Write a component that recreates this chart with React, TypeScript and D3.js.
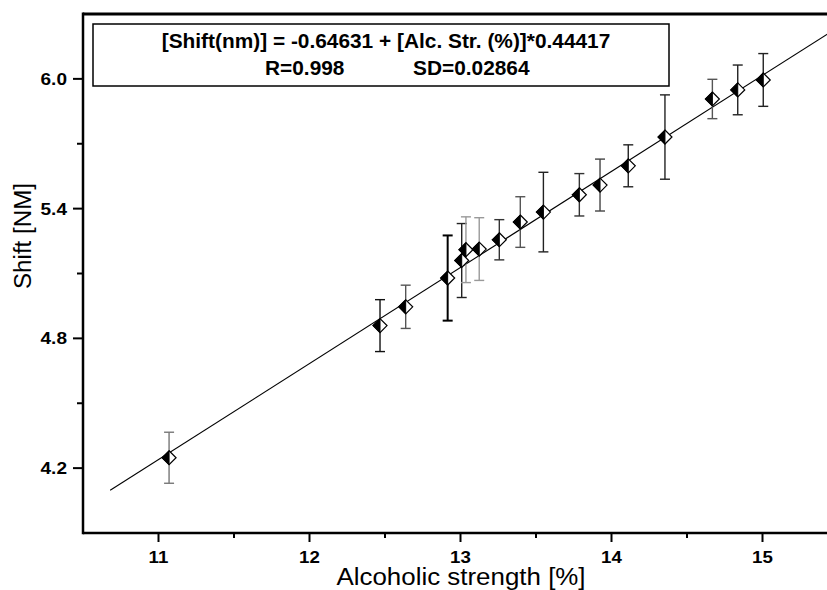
import React from "react";
import * as d3 from "d3";

// Data
const alcStrength = [11.07, 12.467, 12.637, 12.915, 13.008, 13.036, 13.124, 13.257, 13.396, 13.549, 13.787, 13.924, 14.111, 14.354, 14.668, 14.836, 15.005];
const shiftNm = [4.248, 4.859, 4.946, 5.079, 5.16, 5.21, 5.213, 5.256, 5.338, 5.384, 5.464, 5.509, 5.598, 5.731, 5.907, 5.949, 5.995];
const shiftErr = [0.118, 0.12, 0.1, 0.197, 0.171, 0.152, 0.145, 0.093, 0.117, 0.184, 0.098, 0.12, 0.097, 0.195, 0.091, 0.115, 0.122];
const errShade = ["#777", "#111", "#555", "#000", "#222", "#999", "#999", "#333", "#555", "#222", "#333", "#444", "#222", "#222", "#555", "#222", "#222"];

const fitIntercept = -0.64631;
const fitSlope = 0.44417;
const fitRange = [10.68, 15.5];

const xMajorTicks = [11, 12, 13, 14, 15];
const xMinorTicks = [11.5, 12.5, 13.5, 14.5];
const yMajorTicks = [4.2, 4.8, 5.4, 6.0];
const yMinorTicks = [4.5, 5.1, 5.7];

const eqLine1 = "[Shift(nm)] = -0.64631 + [Alc. Str. (%)]*0.44417";
const eqR = "R=0.998";
const eqSD = "SD=0.02864";
const xTitle = "Alcoholic strength [%]";
const yTitle = "Shift [NM]";

const W = 827;
const H = 590;
const FONT = "Arial, 'Liberation Sans', Helvetica, sans-serif";

function SText(props: {
  x: number;
  y: number;
  sx?: number;
  rotate?: number;
  size: number;
  bold?: boolean;
  anchor?: "start" | "middle" | "end";
  children: React.ReactNode;
}) {
  const { x, y, sx = 1, rotate = 0, size, bold, anchor = "start", children } = props;
  return (
    <text
      transform={`translate(${x},${y}) rotate(${rotate}) scale(${sx},1)`}
      fontSize={size}
      fontWeight={bold ? "bold" : "normal"}
      textAnchor={anchor}
    >
      {children}
    </text>
  );
}

export default function App() {
  const x = d3.scaleLinear().domain([10.5, 15.5]).range([83, 838]);
  const y = d3.scaleLinear().domain([3.9, 6.3]).range([533, 14]);
  const x0 = x(10.5);
  const yb = y(3.9);
  const yt = y(6.3);

  const fitLine = d3
    .line<number>()
    .x((d) => x(d))
    .y((d) => y(fitIntercept + fitSlope * d))(fitRange);

  const r = 7;
  const diamond = (cx: number, cy: number) =>
    `M${cx},${cy - r}L${cx + r},${cy}L${cx},${cy + r}L${cx - r},${cy}Z`;
  const leftHalf = (cx: number, cy: number) =>
    `M${cx},${cy - r}L${cx},${cy + r}L${cx - r},${cy}Z`;

  return (
    <svg
      width={W}
      height={H}
      style={{ position: "absolute", left: 0, top: 0, background: "#fff" }}
      fontFamily={FONT}
    >
      <rect x={0} y={0} width={W} height={H} fill="#fff" />

      {/* fit line */}
      <path d={fitLine || ""} fill="none" stroke="#000" strokeWidth={1.1} />

      {/* error bars */}
      {alcStrength.map((xv, i) => {
        const cx = x(xv);
        const t = y(shiftNm[i] + shiftErr[i]);
        const b = y(shiftNm[i] - shiftErr[i]);
        const sw = i === 3 ? 2 : 1.4;
        return (
          <g key={"e" + i} stroke={errShade[i]} strokeWidth={sw}>
            <line x1={cx} x2={cx} y1={t} y2={b} />
            <line x1={cx - 5} x2={cx + 5} y1={t} y2={t} />
            <line x1={cx - 5} x2={cx + 5} y1={b} y2={b} />
          </g>
        );
      })}

      {/* markers */}
      {alcStrength.map((xv, i) => {
        const cx = x(xv);
        const cy = y(shiftNm[i]);
        return (
          <g key={"m" + i}>
            <path d={diamond(cx, cy)} fill="#fff" stroke="#000" strokeWidth={1.2} />
            <path d={leftHalf(cx, cy)} fill="#000" stroke="#000" strokeWidth={1} />
          </g>
        );
      })}

      {/* axes frame */}
      <line x1={x0} x2={W + 20} y1={yt} y2={yt} stroke="#000" strokeWidth={3} />
      <line x1={x0} x2={W + 20} y1={yb} y2={yb} stroke="#000" strokeWidth={2.5} />
      <line x1={x0} x2={x0} y1={yt - 1.5} y2={yb + 1.25} stroke="#000" strokeWidth={2.5} />

      {/* x ticks */}
      {xMajorTicks.map((t) => (
        <g key={"xt" + t}>
          <line x1={x(t)} x2={x(t)} y1={yb} y2={yb + 9} stroke="#000" strokeWidth={2} />
          <SText x={x(t)} y={563} size={17} sx={1.1} bold anchor="middle">
            {t}
          </SText>
        </g>
      ))}
      {xMinorTicks.map((t) => (
        <line key={"xm" + t} x1={x(t)} x2={x(t)} y1={yb} y2={yb + 5} stroke="#000" strokeWidth={2} />
      ))}

      {/* y ticks */}
      {yMajorTicks.map((t) => (
        <g key={"yt" + t}>
          <line x1={x0 - 10} x2={x0} y1={y(t)} y2={y(t)} stroke="#000" strokeWidth={2} />
          <SText x={67} y={y(t) + 6} size={17} sx={1.12} bold anchor="end">
            {t.toFixed(1)}
          </SText>
        </g>
      ))}
      {yMinorTicks.map((t) => (
        <line key={"ym" + t} x1={x0 - 6} x2={x0} y1={y(t)} y2={y(t)} stroke="#000" strokeWidth={2} />
      ))}

      {/* axis titles */}
      <SText x={461} y={585} size={24} sx={1.08} anchor="middle">
        {xTitle}
      </SText>
      <SText x={31} y={236} size={23} sx={1.05} rotate={-90} anchor="middle">
        {yTitle}
      </SText>

      {/* equation box */}
      <rect x={93} y={24} width={576} height={62} fill="#fff" stroke="#000" strokeWidth={1.5} />
      <SText x={386} y={48} size={19.5} sx={1.07} bold anchor="middle">
        {eqLine1}
      </SText>
      <SText x={265} y={75} size={19.5} sx={1.07} bold>
        {eqR}
      </SText>
      <SText x={413} y={75} size={19.5} sx={1.07} bold>
        {eqSD}
      </SText>
    </svg>
  );
}
